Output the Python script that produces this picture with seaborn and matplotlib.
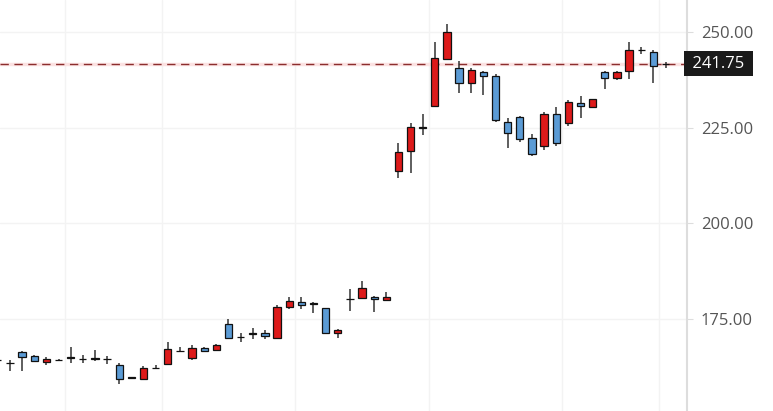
import matplotlib
matplotlib.use("Agg")
import matplotlib.pyplot as plt
import seaborn as sns
import numpy as np

# daily candles
opens = [164.1, 163.4, 166.3, 165.2, 163.5, 164.1, 164.9, 164.4, 164.6, 164.4,
         162.8, 159.6, 159.3, 162.0, 163.1, 166.6, 164.6, 167.4, 166.9, 173.6,
         170.3, 171.2, 171.3, 170.0, 177.9, 179.3, 179.0, 177.7, 171.1, 180.0,
         180.3, 180.7, 179.8, 213.7, 218.9, 225.1, 230.7, 242.9, 240.5, 236.6,
         239.6, 238.5, 226.5, 227.8, 222.2, 220.2, 228.5, 226.3, 231.5, 230.4,
         239.6, 238.1, 239.8, 245.3, 244.7, 241.75]
highs = [164.8, 164.1, 166.5, 165.5, 165.0, 164.3, 167.6, 165.4, 166.8, 165.2,
         163.4, 159.7, 162.6, 162.8, 168.8, 167.5, 168.2, 167.6, 168.4, 175.0,
         171.1, 172.4, 172.0, 178.6, 180.7, 180.7, 179.4, 177.8, 172.2, 182.7,
         184.9, 180.8, 182.0, 221.0, 226.3, 228.5, 247.3, 252.0, 242.5, 240.7,
         239.8, 239.0, 227.4, 228.0, 223.2, 229.0, 230.3, 232.2, 233.2, 232.6,
         239.8, 239.8, 247.3, 246.2, 245.3, 242.2]
lows = [163.3, 161.3, 161.3, 163.5, 162.8, 163.9, 163.4, 163.3, 163.9, 163.1,
        157.8, 159.3, 158.9, 161.9, 162.9, 166.5, 164.1, 166.3, 166.7, 169.8,
        168.9, 169.6, 169.6, 169.6, 177.6, 177.5, 176.5, 171.0, 170.0, 177.0,
        180.2, 176.6, 179.7, 211.7, 213.2, 223.0, 230.5, 242.7, 234.1, 234.1,
        233.5, 226.5, 219.6, 221.3, 217.6, 219.1, 220.2, 225.5, 227.4, 230.2,
        235.1, 237.4, 237.7, 244.2, 236.6, 240.5]
closes = [164.1, 163.3, 165.0, 163.8, 164.5, 164.1, 164.8, 164.4, 164.3, 164.4,
          159.2, 159.4, 162.1, 162.0, 167.0, 166.6, 167.3, 166.6, 168.2, 170.0,
          170.2, 171.0, 170.4, 178.1, 179.7, 178.5, 178.7, 171.1, 172.0, 180.2,
          183.1, 180.0, 180.7, 218.7, 225.2, 224.8, 243.1, 250.1, 236.6, 240.1,
          238.5, 227.0, 223.5, 222.0, 218.2, 228.5, 220.9, 231.8, 230.6, 232.4,
          238.0, 239.6, 245.3, 245.3, 241.1, 241.75]
price_ticks = [175, 200, 225, 250]
grid_x = [5.5, 13.5, 24.5, 35.5, 46.5, 54.5]
last_price = 241.75

sns.set_style("white")
plt.rcParams['font.family'] = ['Open Sans', 'DejaVu Sans']

fig = plt.figure(figsize=(7.73, 4.11), dpi=100)
ax = fig.add_axes([0, 0, 687 / 773, 1])

x = np.arange(len(opens))
o = np.array(opens)
c = np.array(closes)
colors = []
for oo, cc in zip(o, c):
    if abs(cc - oo) < 0.4:
        colors.append("#111111")
    elif cc > oo:
        colors.append("#dd1a1a")
    else:
        colors.append("#5b9bd5")

# grid
for gx in grid_x:
    ax.axvline(gx, color="#f3f3f3", lw=1, zorder=0)
for gy in price_ticks:
    ax.axhline(gy, color="#f3f3f3", lw=1, zorder=0)

# wicks and bodies
ax.vlines(x, lows, highs, color="#333333", lw=1.1, zorder=2)
bottoms = np.minimum(o, c)
heights = np.abs(c - o)
ax.bar(x, heights, width=0.6, bottom=bottoms, color=colors,
       edgecolor="#111111", linewidth=0.9, zorder=3)

# last price line
ax.axhline(last_price, color="#fbe2e2", lw=2.5, zorder=1)
ax.axhline(last_price, color="#8b2e2e", lw=1, ls=(0, (6, 4)), zorder=1)

ax.set_xlim(0.18, 56.77)
ax.set_ylim(150.8, 258.4)

for side in ["top", "left", "bottom"]:
    ax.spines[side].set_visible(False)
ax.spines["right"].set_color("#dddddd")
ax.spines["right"].set_linewidth(1.5)

ax.yaxis.tick_right()
ax.set_yticks(price_ticks)
ax.set_yticklabels([f"{v:.2f}" for v in price_ticks])
ax.tick_params(axis="y", length=4, color="#dddddd", pad=6,
               labelsize=12, labelcolor="#555555")
ax.set_xticks([])

ax.text(1.002, last_price, f" {last_price:.2f} ", transform=ax.get_yaxis_transform(),
        ha="left", va="center", fontsize=12, color="white",
        bbox=dict(boxstyle="square,pad=0.25", fc="#1a1a1a", ec="none"))

plt.savefig("out.png", dpi=100)
